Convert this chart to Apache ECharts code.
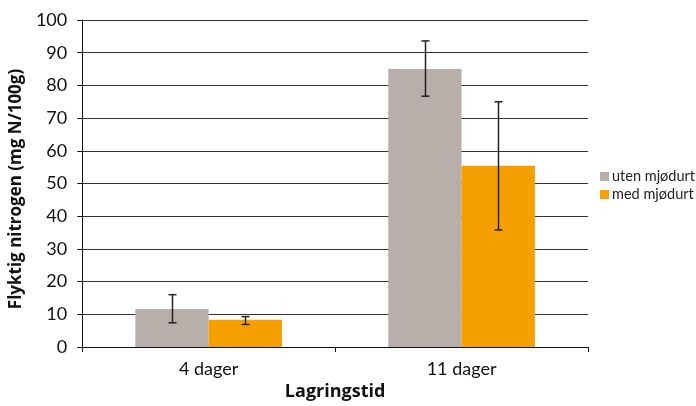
<!DOCTYPE html>
<html><head><meta charset="utf-8">
<script src="https://cdn.jsdelivr.net/npm/echarts@6/dist/echarts.min.js"></script>
<style>html,body{margin:0;padding:0;background:#fff}#c{width:696px;height:406px}</style>
</head><body><div id="c"></div>
<script>
var categories = ['4 dager', '11 dager'];
var seriesNames = ['uten mjødurt', 'med mjødurt'];
var utenValues = [11.6, 85.0];
var medValues = [8.3, 55.4];
var utenErrLow = [7.4, 76.7];
var utenErrHigh = [16.0, 93.6];
var medErrLow = [6.9, 35.8];
var medErrHigh = [9.3, 75.0];
var yTicks = [0, 10, 20, 30, 40, 50, 60, 70, 80, 90, 100];

var colors = ['#b9afaa', '#f5a000'];
var catGap = 0.42;
var font = 'Lato, "Open Sans", "DejaVu Sans", sans-serif';
var titleFont = '"Open Sans", "DejaVu Sans", sans-serif';

function errSeries(low, high, idx) {
  var data = categories.map(function (c, i) { return [i, low[i], high[i]]; });
  return {
    type: 'custom',
    z: 10,
    silent: true,
    data: data,
    encode: { x: 0, y: [1, 2] },
    renderItem: function (params, api) {
      var band = api.size([1, 0])[0];
      var bw = band * (1 - catGap) / 2;
      var off = (idx === 0 ? -1 : 1) * bw / 2;
      var lo = api.coord([api.value(0), api.value(1)]);
      var hi = api.coord([api.value(0), api.value(2)]);
      var x = Math.round(lo[0] + off) + 0.5;
      var cap = 4;
      var st = { stroke: '#222', lineWidth: 1.5 };
      return { type: 'group', children: [
        { type: 'line', shape: { x1: x, y1: hi[1], x2: x, y2: lo[1] }, style: st },
        { type: 'line', shape: { x1: x - cap, y1: hi[1], x2: x + cap, y2: hi[1] }, style: st },
        { type: 'line', shape: { x1: x - cap, y1: lo[1], x2: x + cap, y2: lo[1] }, style: st }
      ]};
    }
  };
}

var chart = echarts.init(document.getElementById('c'));
chart.setOption({
  animation: false,
  textStyle: { fontFamily: font },
  grid: { left: 82, right: 108, top: 20, bottom: 59 },
  legend: {
    orient: 'vertical', left: 595, top: 164,
    itemWidth: 9, itemHeight: 9, itemGap: 3,
    icon: 'rect',
    data: seriesNames,
    textStyle: { fontSize: 14.5, lineHeight: 15, color: '#222', fontFamily: font, padding: [0, 0, 0, -2] }
  },
  xAxis: {
    type: 'category', data: categories,
    name: 'Lagringstid', nameLocation: 'middle', nameGap: 34,
    nameTextStyle: { fontSize: 18, fontWeight: 'bold', color: '#111', fontFamily: titleFont },
    axisLine: { lineStyle: { color: '#111', width: 1 } },
    axisTick: { show: true, length: 5, lineStyle: { color: '#111' } },
    axisLabel: { fontSize: 18, color: '#111', margin: 13, fontFamily: font }
  },
  yAxis: {
    type: 'value', min: yTicks[0], max: yTicks[yTicks.length - 1], interval: 10,
    name: 'Flyktig nitrogen (mg N/100g)', nameLocation: 'middle', nameGap: 49,
    nameTextStyle: { fontSize: 17, fontWeight: 'bold', color: '#111', fontFamily: titleFont, padding: [0, 11, 0, 0] },
    axisLine: { show: true, lineStyle: { color: '#111', width: 1 } },
    axisTick: { show: true, length: 5, lineStyle: { color: '#111' } },
    axisLabel: { fontSize: 18, color: '#111', margin: 15, fontFamily: font },
    splitLine: { show: true, lineStyle: { color: '#333', width: 1 } }
  },
  series: [
    { name: seriesNames[0], type: 'bar', data: utenValues, itemStyle: { color: colors[0] }, barGap: '0%', barCategoryGap: (catGap * 100) + '%' },
    { name: seriesNames[1], type: 'bar', data: medValues, itemStyle: { color: colors[1] }, barGap: '0%', barCategoryGap: (catGap * 100) + '%' },
    errSeries(utenErrLow, utenErrHigh, 0),
    errSeries(medErrLow, medErrHigh, 1)
  ]
});
</script></body></html>
